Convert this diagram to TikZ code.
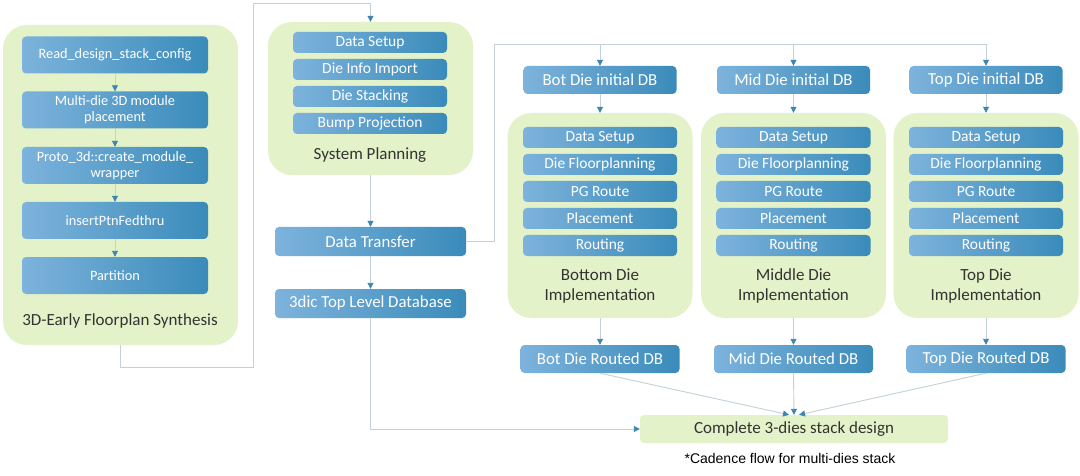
\documentclass[tikz,border=0pt]{standalone}
\usepackage{fontspec}
\setmainfont{Carlito}
\newfontfamily\notefont{Liberation Sans}
\usetikzlibrary{arrows.meta,calc}
\definecolor{boxL}{HTML}{7DB3DC}
\definecolor{boxR}{HTML}{3A8BBA}
\definecolor{panelG}{HTML}{E3F2C8}
\definecolor{lineC}{HTML}{C2D1D9}
\definecolor{arrC}{HTML}{3D86B0}
\definecolor{txtC}{HTML}{333333}
\begin{document}
\begin{tikzpicture}[x=1pt,y=-1pt,
  bbox/.style={rounded corners=4pt, left color=boxL, right color=boxR, draw=none, text=white, align=center, inner sep=0pt},
  fs/.style={bbox, font=\fontsize{14.3}{16}\selectfont, minimum width=186, minimum height=37},
  fm/.style={bbox, font=\fontsize{15.5}{17}\selectfont, minimum width=154, minimum height=21},
  fl/.style={bbox, font=\fontsize{16.8}{19}\selectfont},
  panel/.style={rounded corners=24pt, fill=panelG, draw=none, inner sep=0pt},
  lbl/.style={text=txtC, align=center, font=\fontsize{17}{20.5}\selectfont, inner sep=0pt},
  conn/.style={draw=lineC, line width=0.9pt},
  arr/.style={conn, -{Triangle[length=6pt,width=6pt,color=arrC]}},
]
\useasboundingbox[fill=white] (0,0) rectangle (1080,476);

% ---- left panel
\node[panel, minimum width=235, minimum height=320] (P1) at (120.5,185) {};
\node[fs] (L1) at (115,55) {Read\_design\_stack\_config};
\node[fs] (L2) at (115,110) {Multi-die 3D module\\placement};
\node[fs] (L3) at (115,165.5) {Proto\_3d::create\_module\_\\wrapper};
\node[fs] (L4) at (115,220.5) {insertPtnFedthru};
\node[fs] (L5) at (115,275.5) {Partition};
\node[lbl] (P1t) at (120,321) {3D-Early Floorplan Synthesis};
\draw[arr] (L1) -- (L2);
\draw[arr] (L2) -- (L3);
\draw[arr] (L3) -- (L4);
\draw[arr] (L4) -- (L5);

% ---- system planning
\node[panel, minimum width=205, minimum height=153] (P2) at (370.5,98.5) {};
\node[fm] (S1) at (370,42.5) {Data Setup};
\node[fm] (S2) at (370,69.5) {Die Info Import};
\node[fm] (S3) at (370,96.5) {Die Stacking};
\node[fm] (S4) at (370,123.5) {Bump Projection};
\node[lbl] (P2t) at (370,155) {System Planning};

\coordinate (j1) at (253,367);
\coordinate (j2) at (253,3);
\draw[arr] (P1.south) |- (j1) -- (j2) -| (P2.north);

% ---- data transfer / top level
\node[fl, minimum width=191, minimum height=29] (DT) at (370.5,241.5) {Data Transfer};
\node[fl, minimum width=191, minimum height=29] (TL) at (370.5,303.5) {3dic Top Level Database};
\draw[arr] (P2.south) -- (DT.north);
\draw[arr] (DT.south) -- (TL.north);

% ---- complete
\node[rounded corners=4pt, fill=panelG, text=txtC, font=\fontsize{17}{20}\selectfont, minimum width=308, minimum height=28, inner sep=0pt] (CB) at (794,429) {Complete 3-dies stack design};
\node[font=\notefont\fontsize{14}{16}\selectfont, text=black, inner sep=0pt] (FN) at (790,458) {*Cadence flow for multi-dies stack};
\draw[arr] (TL.south) |- (CB.west);

% ---- die columns
\coordinate (j3) at (494,44);
\coordinate (j4) at (986,44);
\draw[conn] (DT.east) -| (j3) -- (j4);

\foreach \c/\x/\nm/\pn/\xs in {b/600/Bot/Bottom Die/-5, m/793.5/Mid/Middle Die/0, t/986/Top/Top Die/5}{
  \node[fl, minimum width=153, minimum height=28] (\c I) at (\x,80) {\nm{} Die initial DB};
  \node[panel, minimum width=185, minimum height=205] (\c P) at (\x,215.5) {};
  \node[fm] (\c1) at (\x,137.5) {Data Setup};
  \node[fm] (\c2) at (\x,164.5) {Die Floorplanning};
  \node[fm] (\c3) at (\x,191.5) {PG Route};
  \node[fm] (\c4) at (\x,218.5) {Placement};
  \node[fm] (\c5) at (\x,245.5) {Routing};
  \node[lbl] (\c L) at (\x,286) {\pn\\Implementation};
  \node[fl, minimum width=159, minimum height=28] (\c R) at (\x,359) {\nm{} Die Routed DB};
  \draw[arr] (\c I.north |- j3) -- (\c I.north);
  \draw[arr] (\c I.south) -- (\c P.north);
  \draw[arr] (\c P.south) -- (\c R.north);
  \draw[arr] (\c R.south) -- ([xshift=\xs]CB.north);
}
\end{tikzpicture}
\end{document}
